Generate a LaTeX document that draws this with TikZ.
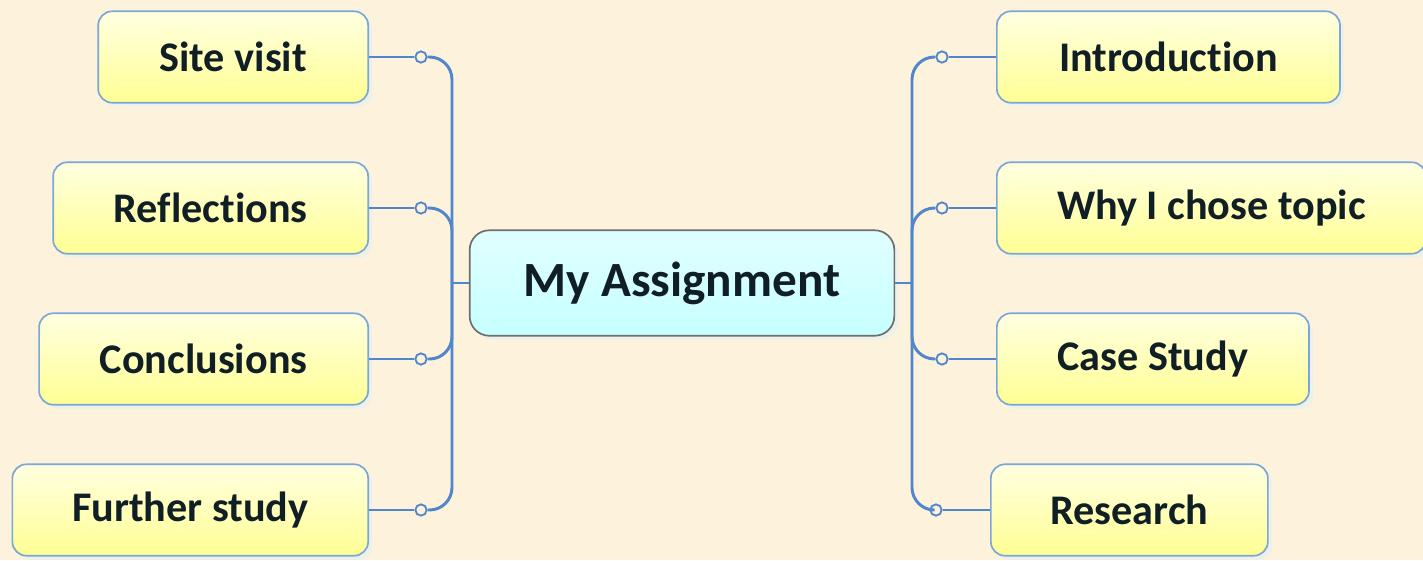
\documentclass[tikz,border=0pt]{standalone}
\usepackage{fontspec}
\setmainfont{Carlito}[Ligatures=NoCommon]
\usetikzlibrary{%
  shadows%
}
\definecolor{paper}{HTML}{FDF2DC}
\definecolor{linkblue}{HTML}{4F86CC}
\definecolor{boxedge}{HTML}{7AA6D8}
\definecolor{hubedge}{HTML}{6E6E6E}
\definecolor{inktext}{HTML}{101E25}
\definecolor{shade}{HTML}{EEF1EA}
\tikzset{
  topic/.style={draw=boxedge, line width=1.2pt, rounded corners=10pt,
    top color=yellow!12, bottom color=yellow!42,
    minimum height=65pt, text=inktext,
    font=\bfseries\fontsize{30}{32}\selectfont,
    drop shadow={shadow xshift=3pt, shadow yshift=-3pt, fill=shade, opacity=1}},
  hub/.style={topic, draw=hubedge, rounded corners=14pt,
    top color=cyan!12, bottom color=cyan!22,
    minimum width=302pt, minimum height=75pt,
    font=\bfseries\fontsize{35}{38}\selectfont},
  knob/.style={circle, draw=linkblue, line width=1.3pt, fill=paper,
    inner sep=0pt, minimum size=8pt},
  link/.style={draw=linkblue, line width=2.1pt}
}

\begin{document}
\begin{tikzpicture}[x=0.025cm, y=-0.025cm]
      \fill [paper] (0,0) rectangle (1423,560);
      \useasboundingbox (0,0) rectangle (1423,560);
      \node [hub] (hub) at (682,283) {My Assignment};
      % left branch
      \node [topic, anchor=east, minimum width=192pt] (site) at (369,57) {Site visit};
      \node [topic, anchor=east, minimum width=224pt] (refl) at (369,208) {Reflections};
      \node [topic, anchor=east, minimum width=234pt] (concl) at (369,359) {Conclusions};
      \node [topic, anchor=east, minimum width=253pt] (further) at (369,510) {Further study};
      % right branch
      \node [topic, anchor=west, minimum width=244pt] (intro) at (996,57) {Introduction};
      \node [topic, anchor=west, minimum width=305pt] (why) at (996,208) {Why I chose topic};
      \node [topic, anchor=west, minimum width=222pt] (case) at (996,359) {Case Study};
      \node [topic, anchor=west, minimum width=197pt] (research) at (990,510) {Research};
      \coordinate (trunkL) at (452,283);
      \coordinate (trunkR) at (912,283);
      \node [knob] (ksite) at (421,57) {};
      \node [knob] (krefl) at (421,208) {};
      \node [knob] (kconcl) at (421,359) {};
      \node [knob] (kfurther) at (421,510) {};
      \node [knob] (kintro) at (942,57) {};
      \node [knob] (kwhy) at (942,208) {};
      \node [knob] (kcase) at (942,359) {};
      \node [knob] (kresearch) at (936,510) {};
      \foreach \b/\k in {site/ksite, refl/krefl, concl/kconcl, further/kfurther} {
        \draw [link] (\b.east) -- (\k.west);
        \draw [link, rounded corners=16pt] (\k.east) -| (trunkL);
      }
      \foreach \b/\k in {intro/kintro, why/kwhy, case/kcase, research/kresearch} {
        \draw [link] (\k.east) -- (\b.west);
        \draw [link, rounded corners=16pt] (trunkR) |- (\k.west);
      }
      \draw [link] (trunkL) -- (hub.west);
      \draw [link] (hub.east) -- (trunkR);
    \end{tikzpicture}
\end{document}
